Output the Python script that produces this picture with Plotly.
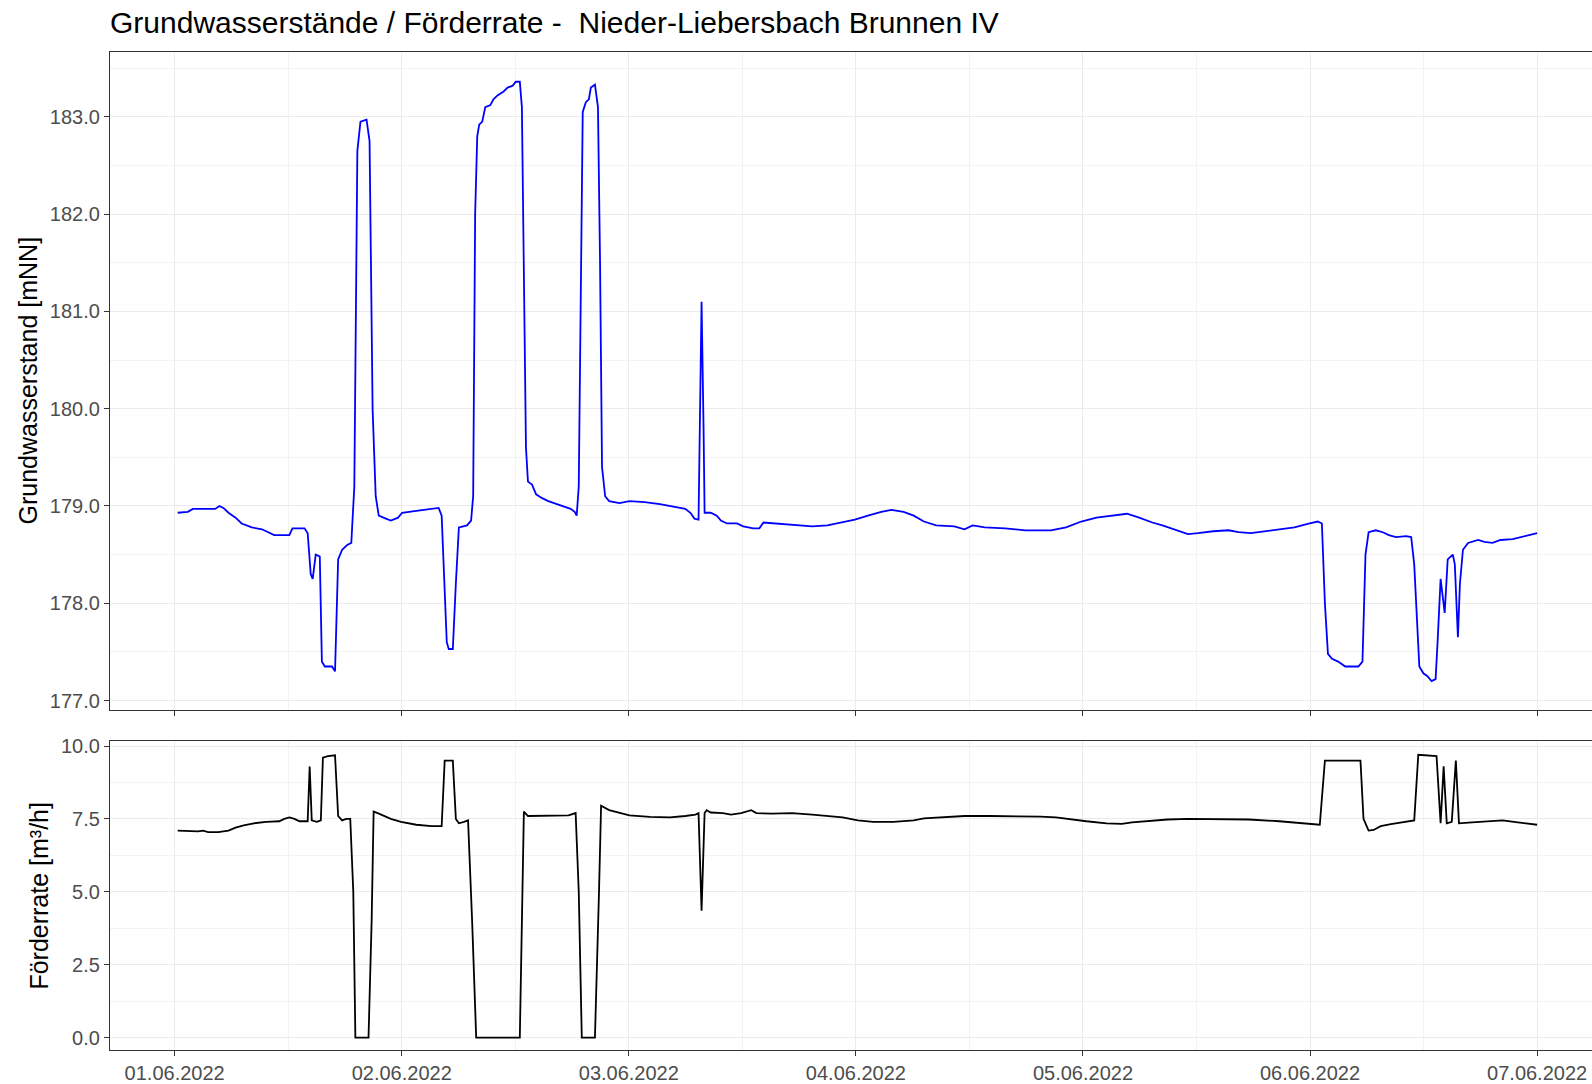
import pandas as pd
import plotly.graph_objects as go

# ---- data (hours after 01.06.2022 00:00) ----
gw_hours = [0.32, 1.39, 1.93, 4.29, 4.72, 5.15, 5.69, 6.44, 7.08, 8.15, 9.23, 9.98, 10.52, 12.12, 12.45,
            13.73, 14.06, 14.38, 14.59, 14.91, 15.34, 15.56, 15.88, 16.63, 16.95, 17.28, 17.70, 18.24,
            18.67, 18.99, 19.21, 19.31, 19.64, 20.28, 20.60, 20.92, 21.25, 21.57, 22.32, 22.85, 23.61,
            24.04, 25.54, 27.15, 27.90, 28.22, 28.76, 28.97, 29.40, 29.72, 30.04, 30.90, 31.33, 31.55,
            31.76, 31.98, 32.19, 32.51, 32.83, 33.37, 33.69, 34.12, 34.77, 35.19, 35.73, 36.05, 36.48,
            36.70, 36.91, 37.13, 37.34, 37.77, 38.20, 38.84, 39.49, 40.34, 41.10, 41.85, 42.28, 42.49,
            42.71, 42.92, 43.13, 43.46, 43.78, 43.99, 44.42, 44.74, 44.96, 45.17, 45.50, 45.92, 47.00,
            48.07, 49.68, 51.29, 52.90, 53.97, 54.51, 54.94, 55.37, 55.58, 55.69, 55.90, 56.01, 56.65,
            57.30, 57.73, 58.37, 59.44, 60.09, 61.16, 61.80, 62.23, 63.63, 65.77, 67.38, 68.99, 70.60,
            71.89, 73.28, 74.68, 75.75, 77.04, 78.11, 79.19, 80.48, 82.41, 83.48, 84.34, 85.63, 87.77,
            89.92, 92.60, 94.21, 95.82, 97.43, 99.04, 100.65, 101.94, 103.33, 104.40, 105.80, 107.09,
            108.16, 109.77, 111.38, 112.45, 113.74, 115.13, 116.74, 118.35, 119.96, 120.82, 121.25,
            121.57, 121.89, 122.32, 122.97, 123.72, 125.11, 125.54, 125.86, 126.19, 126.94, 127.69,
            128.33, 129.08, 130.15, 130.69, 131.01, 131.55, 131.98, 132.41, 132.84, 133.27, 133.48,
            133.80, 134.23, 134.55, 135.09, 135.30, 135.63, 135.84, 136.16, 136.70, 137.77, 138.42,
            139.28, 140.13, 141.42, 142.49, 143.14, 144.00]
gw_level = [178.93, 178.94, 178.97, 178.97, 179.00, 178.98, 178.93, 178.88, 178.82, 178.78, 178.76, 178.72,
            178.70, 178.70, 178.77, 178.77, 178.72, 178.30, 178.25, 178.50, 178.48, 177.40, 177.35, 177.35,
            177.30, 178.45, 178.55, 178.60, 178.62, 179.20, 182.00, 182.65, 182.95, 182.97, 182.75, 180.00,
            179.10, 178.90, 178.87, 178.85, 178.88, 178.93, 178.95, 178.97, 178.98, 178.90, 177.60, 177.53,
            177.53, 178.20, 178.78, 178.80, 178.85, 179.10, 182.00, 182.80, 182.92, 182.95, 183.10, 183.12,
            183.18, 183.22, 183.26, 183.30, 183.32, 183.36, 183.36, 183.10, 181.50, 179.60, 179.25, 179.22,
            179.12, 179.08, 179.05, 179.02, 179.00, 178.97, 178.94, 178.90, 179.20, 181.50, 183.05, 183.15,
            183.18, 183.30, 183.33, 183.10, 181.50, 179.40, 179.10, 179.05, 179.03, 179.05, 179.04, 179.02,
            178.99, 178.97, 178.93, 178.87, 178.86, 180.60, 181.10, 179.80, 178.93, 178.93, 178.90, 178.85,
            178.82, 178.82, 178.79, 178.77, 178.77, 178.83, 178.82, 178.80, 178.79, 178.80, 178.83, 178.86,
            178.90, 178.94, 178.96, 178.94, 178.90, 178.84, 178.80, 178.79, 178.76, 178.80, 178.78, 178.77,
            178.75, 178.75, 178.78, 178.84, 178.88, 178.90, 178.92, 178.88, 178.83, 178.80, 178.75, 178.71,
            178.72, 178.74, 178.75, 178.73, 178.72, 178.74, 178.76, 178.78, 178.82, 178.84, 178.82, 178.00,
            177.48, 177.43, 177.40, 177.35, 177.35, 177.40, 178.50, 178.73, 178.75, 178.73, 178.70, 178.68,
            178.69, 178.68, 178.40, 177.35, 177.28, 177.25, 177.20, 177.22, 177.60, 178.25, 177.90, 178.45,
            178.50, 178.40, 177.65, 178.20, 178.55, 178.62, 178.65, 178.63, 178.62, 178.65, 178.66, 178.68,
            178.70, 178.72]

q_hours = [0.32, 1.39, 2.47, 3.00, 3.54, 4.61, 5.69, 6.44, 7.30, 8.37, 9.66, 11.05, 11.59, 12.12, 12.66,
           13.20, 14.06, 14.27, 14.49, 15.02, 15.45, 15.67, 16.20, 16.95, 17.28, 17.70, 18.13, 18.56,
           18.88, 19.10, 20.49, 20.82, 21.03, 21.46, 22.10, 22.85, 23.93, 25.54, 27.15, 28.22, 28.54,
           29.40, 29.72, 30.04, 30.58, 31.01, 31.44, 31.87, 36.48, 36.91, 37.34, 39.49, 41.63, 42.38,
           42.71, 43.03, 44.42, 44.85, 45.07, 45.92, 47.00, 48.07, 50.22, 52.36, 53.97, 55.04, 55.37,
           55.69, 56.01, 56.23, 56.65, 57.94, 58.80, 59.87, 60.94, 61.48, 63.09, 65.24, 67.38, 68.99,
           70.60, 72.21, 73.82, 75.97, 78.11, 79.19, 81.33, 83.48, 86.16, 88.84, 91.53, 93.14, 94.75,
           96.36, 98.50, 100.11, 101.18, 102.79, 104.94, 107.09, 109.23, 111.38, 113.52, 116.74, 118.89,
           121.03, 121.57, 125.33, 125.65, 126.19, 126.72, 127.47, 128.54, 130.69, 131.01, 131.44,
           133.37, 133.80, 134.12, 134.45, 134.98, 135.41, 135.74, 137.13, 138.74, 140.35, 141.96,
           143.03, 144.00]
q_rate = [7.10, 7.08, 7.07, 7.10, 7.05, 7.05, 7.10, 7.20, 7.28, 7.35, 7.40, 7.42, 7.50, 7.55, 7.50,
          7.42, 7.42, 9.30, 7.45, 7.40, 7.45, 9.60, 9.65, 9.68, 7.60, 7.45, 7.50, 7.50,
          5.00, 0.00, 0.00, 4.00, 7.75, 7.70, 7.60, 7.50, 7.40, 7.30, 7.25, 7.25, 9.50,
          9.50, 7.50, 7.35, 7.40, 7.45, 4.00, 0.00, 0.00, 7.75, 7.60, 7.60, 7.62, 7.70,
          5.00, 0.00, 0.00, 5.00, 7.95, 7.80, 7.70, 7.62, 7.57, 7.55, 7.60, 7.65, 7.70,
          4.35, 7.70, 7.80, 7.72, 7.70, 7.65, 7.70, 7.80, 7.70, 7.68, 7.70, 7.65, 7.60,
          7.55, 7.45, 7.40, 7.40, 7.45, 7.52, 7.57, 7.60, 7.60, 7.60, 7.58, 7.55, 7.48,
          7.42, 7.35, 7.33, 7.38, 7.42, 7.48, 7.50, 7.50, 7.50, 7.48, 7.42, 7.35,
          7.30, 9.50, 9.50, 7.50, 7.10, 7.12, 7.25, 7.32, 7.42, 7.45, 9.70,
          9.65, 7.35, 9.30, 7.35, 7.40, 9.50, 7.35, 7.38, 7.42, 7.45, 7.38,
          7.35, 7.30]

title_text = "Grundwasserstände / Förderrate -  Nieder-Liebersbach Brunnen IV"
y1_title = "Grundwasserstand [mNN]"
y2_title = "Förderrate [m³/h]"

start = pd.Timestamp("2022-06-01 00:00")
gw_time = start + pd.to_timedelta(gw_hours, unit="h")
q_time = start + pd.to_timedelta(q_hours, unit="h")

FONT = "Liberation Sans, Arial, sans-serif"
BORDER = "#333333"
GRID = "#EBEBEB"
TICKC = "#4D4D4D"

fig = go.Figure()
fig.add_trace(go.Scatter(x=gw_time, y=gw_level, mode="lines",
                         line=dict(color="#0000FF", width=1.8), xaxis="x", yaxis="y",
                         showlegend=False))
fig.add_trace(go.Scatter(x=q_time, y=q_rate, mode="lines",
                         line=dict(color="#000000", width=1.8), xaxis="x2", yaxis="y2",
                         showlegend=False))

xrange = ["2022-05-31 17:10", "2022-06-07 05:48"]
common_x = dict(type="date", range=xrange, dtick=86400000, tick0="2022-06-01",
                showgrid=True, gridcolor=GRID, gridwidth=1.2,
                minor=dict(dtick=43200000, showgrid=True, gridcolor="#F3F3F3", gridwidth=0.8),
                showline=True, linecolor=BORDER, linewidth=1.2, mirror=True,
                ticks="outside", ticklen=5, tickwidth=1.2, tickcolor=BORDER,
                zeroline=False, tickformat="%d.%m.%Y",
                tickfont=dict(family=FONT, size=20, color=TICKC))

fig.update_layout(
    width=1592, height=1084,
    margin=dict(l=110, r=0, t=52, b=34),
    paper_bgcolor="white", plot_bgcolor="white",
    font=dict(family=FONT),
    xaxis=dict(common_x, domain=[0, 1], anchor="y", showticklabels=False),
    xaxis2=dict(common_x, domain=[0, 1], anchor="y2", showticklabels=True),
    yaxis=dict(domain=[0.3407, 1.0], range=[176.903, 183.666], anchor="x",
               tickvals=[177, 178, 179, 180, 181, 182, 183], tickformat=".1f",
               showgrid=True, gridcolor=GRID, gridwidth=1.2,
               minor=dict(dtick=0.5, tick0=177, showgrid=True, gridcolor="#F3F3F3", gridwidth=0.8),
               showline=True, linecolor=BORDER, linewidth=1.2, mirror=False,
               ticks="outside", ticklen=5, tickwidth=1.2, tickcolor=BORDER, zeroline=False,
               tickfont=dict(family=FONT, size=20, color=TICKC)),
    yaxis2=dict(domain=[0.0, 0.3096], range=[-0.425, 10.171], anchor="x2",
                tickvals=[0, 2.5, 5, 7.5, 10], tickformat=".1f",
                showgrid=True, gridcolor=GRID, gridwidth=1.2,
                minor=dict(dtick=1.25, tick0=0, showgrid=True, gridcolor="#F3F3F3", gridwidth=0.8),
                showline=True, linecolor=BORDER, linewidth=1.2, mirror=False,
                ticks="outside", ticklen=5, tickwidth=1.2, tickcolor=BORDER, zeroline=False,
                tickfont=dict(family=FONT, size=20, color=TICKC)),
    title=dict(text=title_text, x=110 / 1592, xanchor="left", xref="paper",
               y=1 - 22.5 / 1084, yanchor="middle",
               font=dict(family=FONT, size=30, color="#000000")),
)
fig.update_layout(title=dict(xref="container"))

fig.add_annotation(text=y1_title, textangle=-90, xref="paper", yref="paper",
                   x=(27.5 - 110) / 1482, y=(1050 - 381) / 998, xanchor="center", yanchor="middle",
                   showarrow=False, font=dict(family=FONT, size=25, color="#000000"))
fig.add_annotation(text=y2_title, textangle=-90, xref="paper", yref="paper",
                   x=(38.6 - 110) / 1482, y=(1050 - 896) / 998, xanchor="center", yanchor="middle",
                   showarrow=False, font=dict(family=FONT, size=25, color="#000000"))

fig.write_html("out.html")
